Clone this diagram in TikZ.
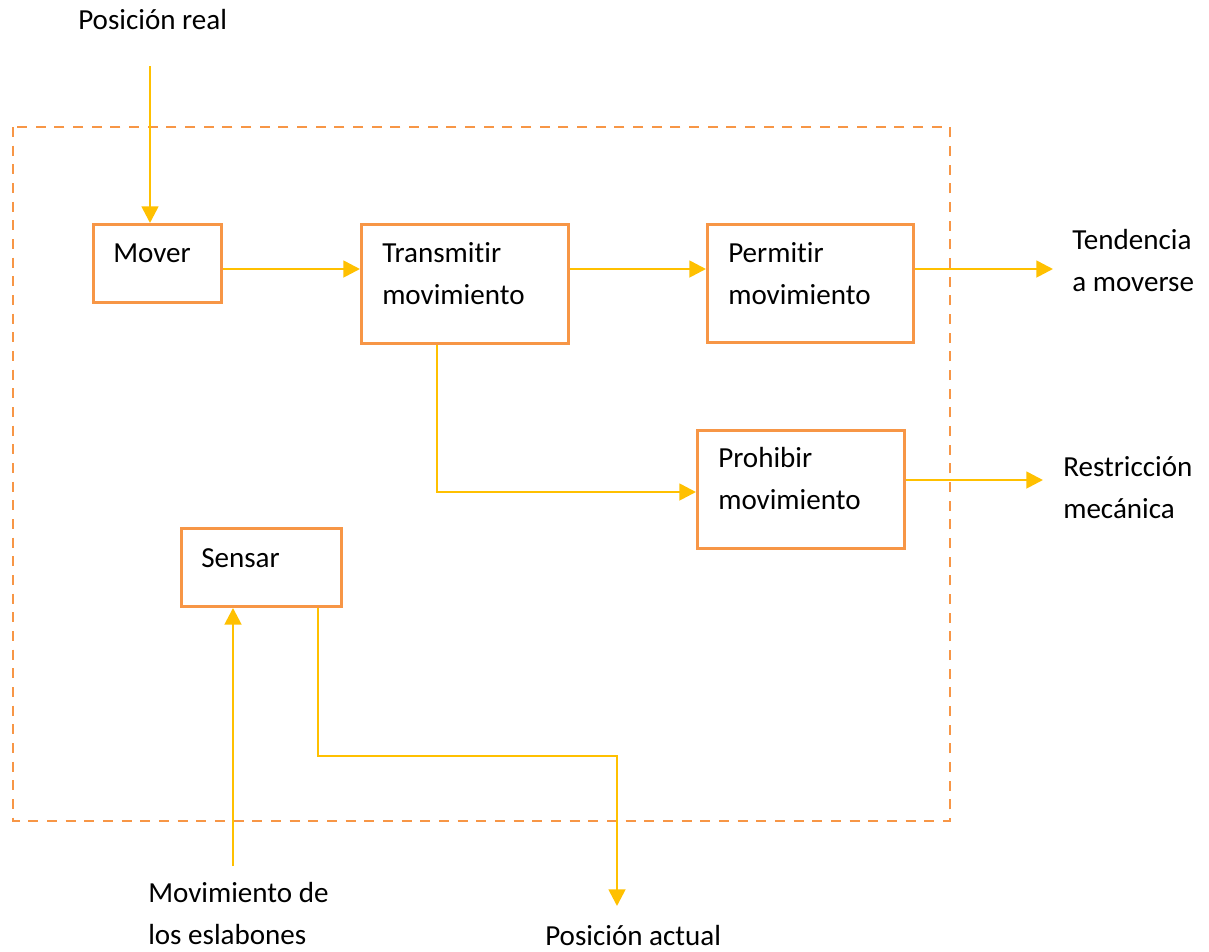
\documentclass[tikz,border=0pt]{standalone}
\usepackage{fontspec}
\setmainfont{Carlito}[Ligatures=NoCommon]
\usetikzlibrary{calc}
\usetikzlibrary{arrows.meta}
\usetikzlibrary{positioning}

\definecolor{boxorange}{HTML}{F79646}
\definecolor{flowyellow}{HTML}{FFC000}
\def\pxu{0.75pt}

\begin{document}
\begin{tikzpicture}[x=0.75pt,y=-0.75pt,
    blockbox/.style={draw=boxorange, line width=2.2pt, inner sep=0pt, anchor=north west},
    blocktext/.style={anchor=base west, inner sep=0pt, align=left,
      font=\fontsize{21.8}{31.5}\selectfont},
    flowarrow/.style={draw=flowyellow, line width=2pt,
      -{Triangle[length=12.5pt,width=12.5pt,fill=flowyellow]}},
    systemline/.style={draw=boxorange, line width=1.8pt, dash pattern=on 7.5pt off 6.5pt}]
      \useasboundingbox (0,0) rectangle (1209,951);

      % system border
      \draw [systemline] (13,127) rectangle (950,821);

      % blocks
      \node [blockbox, minimum width=128*\pxu, minimum height=78*\pxu] (mover) at (92,223) {};
      \node [blockbox, minimum width=207*\pxu, minimum height=119*\pxu] (trans) at (360,223) {};
      \node [blockbox, minimum width=206*\pxu, minimum height=118*\pxu] (perm) at (706,223) {};
      \node [blockbox, minimum width=207*\pxu, minimum height=118*\pxu] (prohib) at (696,429) {};
      \node [blockbox, minimum width=160*\pxu, minimum height=78*\pxu] (sensar) at (180,527) {};

      % texts sit on the baseline of their last line
      \node [blocktext] (movertxt) at ($(mover.north west)+(21,39)$) {Mover};
      \node [blocktext] (transtxt) at ($(trans.north west)+(22,81)$) {Transmitir\\movimiento};
      \node [blocktext] (permtxt) at ($(perm.north west)+(22,81)$) {Permitir\\movimiento};
      \node [blocktext] (prohibtxt) at ($(prohib.north west)+(22,80)$) {Prohibir\\movimiento};
      \node [blocktext] (sensartxt) at ($(sensar.north west)+(21,40)$) {Sensar};

      % inputs and outputs
      \node [blocktext] (real) at (78,29) {Posición real};
      \node [blocktext] (tend) at (1072,291) {Tendencia\\a moverse};
      \node [blocktext] (restr) at (1063,518) {Restricción\\mecánica};
      \node [blocktext] (eslab) at (148,944) {Movimiento de\\los eslabones};
      \node [blocktext] (actual) at (545,945) {Posición actual};

      \coordinate (realin) at (150,66);
      \coordinate (tendend) at (1053,269);
      \coordinate (restrend) at (1043,480);
      \coordinate (eslabin) at (233,866);
      \coordinate (actualend) at (617,906);

      \draw [flowarrow] (realin) -- (realin |- mover.north);
      \draw [flowarrow] (mover.east |- 0,269) -- (trans.west |- 0,269);
      \draw [flowarrow] (trans.east |- 0,269) -- (perm.west |- 0,269);
      \draw [flowarrow] (perm.east |- tendend) -- (tendend);
      \draw [flowarrow] ($(trans.south west)+(77,0)$) |- (prohib.west |- 0,492);
      \draw [flowarrow] (prohib.east |- restrend) -- (restrend);
      \draw [flowarrow] (eslabin) -- (eslabin |- sensar.south);
      \draw [flowarrow] (sensar.south -| 318,0) |- (actualend |- 0,756) -- (actualend);
    \end{tikzpicture}
\end{document}
